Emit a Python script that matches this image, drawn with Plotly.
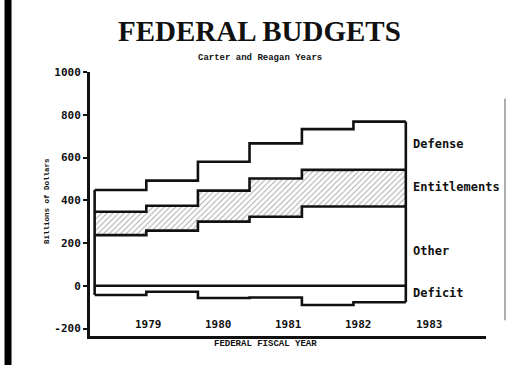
import numpy as np
import plotly.graph_objects as go

# Federal budget outlays by category, billions of dollars, one step per period
period_edges = [1978.236, 1978.972, 1979.707, 1980.442, 1981.188, 1981.922, 1982.668]
other = [237, 258, 300, 323, 371, 371]
entitlements = [109, 116, 145, 179, 171, 172]
defense = [102, 118, 135, 164, 191, 225]
deficit = [-43, -28, -57, -55, -90, -77]

categories = ["Defense", "Entitlements", "Other", "Deficit"]
year_ticks = [1979, 1980, 1981, 1982, 1983]
y_ticks = [-200, 0, 200, 400, 600, 800, 1000]

other_top = np.array(other)
ent_top = other_top + np.array(entitlements)
total_top = ent_top + np.array(defense)
zero = np.zeros(len(other))
deficit_arr = np.array(deficit)

INK = "#111111"
LW = 2.6
TICK_FONT = dict(family="DejaVu Sans Mono", size=11, color=INK, weight="bold")


def step(vals):
    v = list(vals)
    return v + [v[-1]]


fig = go.Figure()

common = dict(x=period_edges, mode="lines", line=dict(color=INK, width=LW, shape="hv"),
              hoverinfo="skip", showlegend=False)

fig.add_trace(go.Scatter(y=step(deficit_arr), **common))
fig.add_trace(go.Scatter(y=step(zero), **common))
fig.add_trace(go.Scatter(y=step(other_top), **common))
fig.add_trace(go.Scatter(
    y=step(ent_top), fill="tonexty", fillcolor="rgba(0,0,0,0)",
    fillpattern=dict(shape="/", size=4, solidity=0.25, fgcolor="#555555", bgcolor="white"),
    **common))
fig.add_trace(go.Scatter(y=step(total_top), **common))

# closing vertical edges of the stacked block
fig.add_trace(go.Scatter(
    x=[period_edges[0], period_edges[0], None, period_edges[-1], period_edges[-1]],
    y=[deficit_arr[0], total_top[0], None, deficit_arr[-1], total_top[-1]],
    mode="lines", line=dict(color=INK, width=LW), hoverinfo="skip", showlegend=False))

# category labels beside the last period
mids = {
    "Defense": (total_top[-1] + ent_top[-1]) / 2,
    "Entitlements": (ent_top[-1] + other_top[-1]) / 2,
    "Other": (other_top[-1] + zero[-1]) / 2,
    "Deficit": (zero[-1] + deficit_arr[-1]) / 2,
}
shifts = {"Defense": 2, "Entitlements": 1, "Other": -5, "Deficit": 1}
annotations = []
for name in categories:
    annotations.append(dict(
        x=period_edges[-1], y=mids[name], xref="x", yref="y", text=name,
        xanchor="left", yanchor="middle", xshift=5, yshift=shifts[name], showarrow=False,
        font=dict(family="DejaVu Sans Mono", size=12, color=INK, weight="bold")))

# year labels sit just above the bottom axis line, inside the frame
for yr in year_ticks:
    annotations.append(dict(
        x=yr, y=0, xref="x", yref="paper", text=str(yr), showarrow=False,
        xanchor="center", yanchor="bottom", yshift=3, font=TICK_FONT))

annotations += [
    dict(x=0.427, y=1.155, xref="paper", yref="paper", text="FEDERAL BUDGETS",
         showarrow=False, xanchor="center", yanchor="middle",
         font=dict(family="Liberation Serif", size=29, color=INK, weight="bold")),
    dict(x=0.429, y=1.053, xref="paper", yref="paper", text="Carter and Reagan Years",
         showarrow=False, xanchor="center", yanchor="middle",
         font=dict(family="Liberation Mono", size=9, color=INK, weight="bold")),
    dict(x=-0.1086, y=0.511, xref="paper", yref="paper", text="Billions of Dollars",
         textangle=-90, showarrow=False, xanchor="center", yanchor="middle",
         font=dict(family="Liberation Mono", size=7.5, color=INK, weight="bold")),
    dict(x=0.442, y=-0.03, xref="paper", yref="paper", text="FEDERAL FISCAL YEAR",
         showarrow=False, xanchor="center", yanchor="middle",
         font=dict(family="Liberation Mono", size=9, color=INK, weight="bold")),
]

shapes = [
    # dark page edge on the left and faint one on the right
    dict(type="line", xref="paper", yref="paper", x0=-0.207, x1=-0.207, y0=-0.11, y1=1.28,
         line=dict(color="#000000", width=7)),
    dict(type="line", xref="paper", yref="paper", x0=1.048, x1=1.048, y0=0.06, y1=0.90,
         line=dict(color="#777777", width=1.2)),
]

fig.update_layout(
    width=507, height=370,
    margin=dict(l=90, r=21, t=72, b=34),
    paper_bgcolor="white", plot_bgcolor="white",
    annotations=annotations, shapes=shapes,
    xaxis=dict(range=[1978.17, 1983.81], showticklabels=False, ticks="",
               showgrid=False, zeroline=False,
               showline=True, linecolor=INK, linewidth=3),
    yaxis=dict(range=[-235, 1000], tickvals=y_ticks, ticktext=[str(v) for v in y_ticks],
               ticks="outside", ticklen=4, tickwidth=2, tickcolor=INK,
               showgrid=False, zeroline=False, showline=True, linecolor=INK, linewidth=3,
               tickfont=TICK_FONT),
)

fig.write_html("out.html")
